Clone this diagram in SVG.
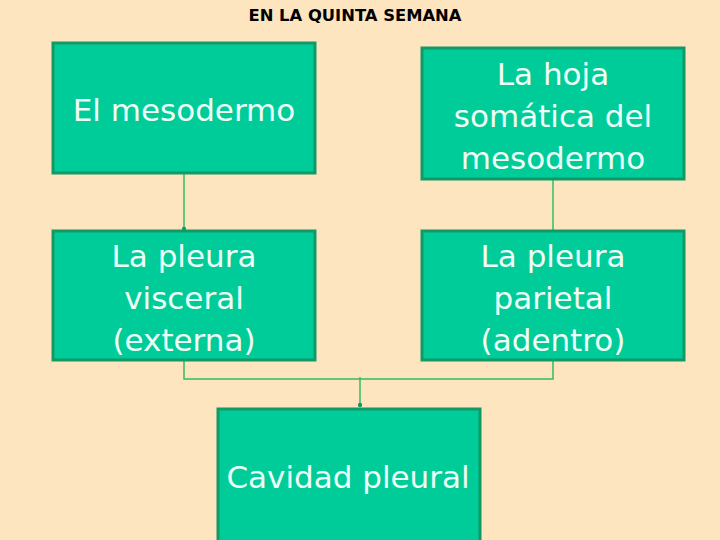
<svg xmlns="http://www.w3.org/2000/svg" width="720" height="540" viewBox="0 0 720 540">
<defs>
<style>
.box{fill:#00CC99;stroke:#119966;stroke-width:3}
.lbl{font-family:"DejaVu Sans",Verdana,sans-serif;font-size:31px;fill:#EEFFF6;text-anchor:middle}
.con{fill:none;stroke:#33BB66;stroke-width:1.5}
.title{font-family:"DejaVu Sans",Verdana,sans-serif;font-size:15px;font-weight:bold;fill:#000;text-anchor:middle}
</style>
<marker id="dot" markerWidth="6" markerHeight="6" refX="3" refY="3" markerUnits="userSpaceOnUse">
<circle cx="3" cy="3" r="2.2" fill="#119966"/>
</marker>
</defs>
<rect width="720" height="540" fill="#FDE5C0"/>
<text class="title" x="355" y="21" textLength="213" lengthAdjust="spacingAndGlyphs">EN LA QUINTA SEMANA</text>
<g id="connectors">
<path class="con" d="M184 173 V229" marker-end="url(#dot)"/>
<path class="con" d="M553 179 V230"/>
<path class="con" d="M184 360 V379 H553 V360"/>
<path class="con" d="M360 377 V405" marker-end="url(#dot)"/>
</g>
<g id="n1">
<rect class="box" x="53" y="43" width="262" height="130"/>
<text class="lbl" x="184" y="121">El mesodermo</text>
</g>
<g id="n2">
<rect class="box" x="422" y="48" width="262" height="131"/>
<text class="lbl" x="553" y="85">La hoja</text>
<text class="lbl" x="553" y="127">somática del</text>
<text class="lbl" x="553" y="169">mesodermo</text>
</g>
<g id="n3">
<rect class="box" x="53" y="231" width="262" height="129"/>
<text class="lbl" x="184" y="267">La pleura</text>
<text class="lbl" x="184" y="309">visceral</text>
<text class="lbl" x="184" y="351">(externa)</text>
</g>
<g id="n4">
<rect class="box" x="422" y="231" width="262" height="129"/>
<text class="lbl" x="553" y="267">La pleura</text>
<text class="lbl" x="553" y="309">parietal</text>
<text class="lbl" x="553" y="351">(adentro)</text>
</g>
<g id="n5">
<rect class="box" x="218" y="409" width="262" height="140"/>
<text class="lbl" x="348" y="488">Cavidad pleural</text>
</g>
</svg>
